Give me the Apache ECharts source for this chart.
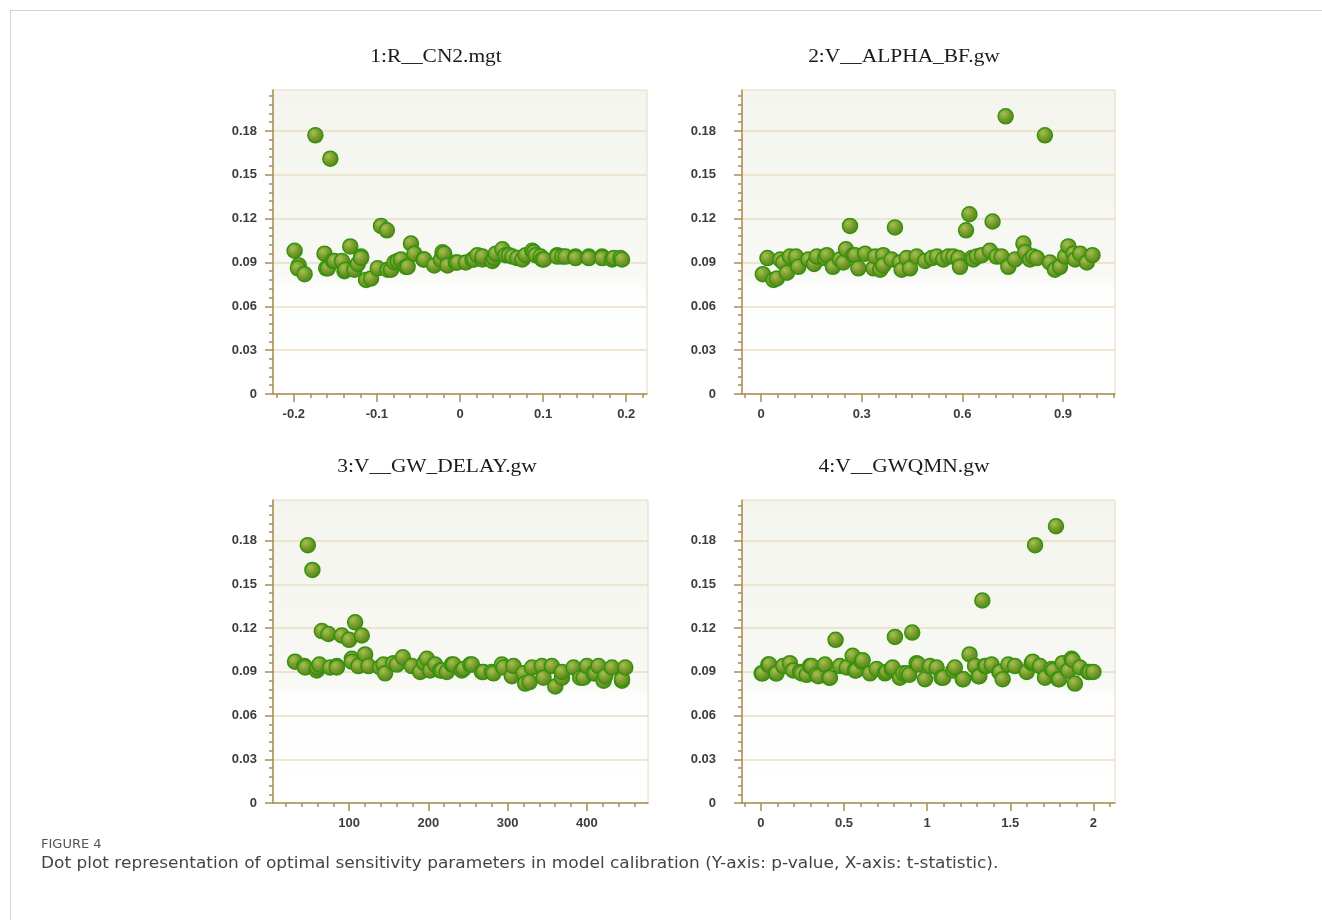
<!DOCTYPE html>
<html>
<head>
<meta charset="utf-8">
<script src="https://cdn.jsdelivr.net/npm/echarts@6/dist/echarts.min.js"></script>
<style>
  html, body { margin: 0; padding: 0; background: #fff; }
  #chart { width: 1322px; height: 920px; }
  #frame { position: absolute; left: 10px; top: 10px; right: 0; bottom: 0;
           border-top: 1px solid #d4d4d4; border-left: 1px solid #d4d4d4; pointer-events: none; }
</style>
</head>
<body>
<div id="chart"></div>
<div id="frame"></div>
<script>
// panel titles
const panelTitles = ['1:R__CN2.mgt', '2:V__ALPHA_BF.gw', '3:V__GW_DELAY.gw', '4:V__GWQMN.gw'];

// y axis (p-value), shared by all panels
const yTickLabels = [0, 0.03, 0.06, 0.09, 0.12, 0.15, 0.18];

// x axis (t-statistic) labels per panel
const xLabels1 = [-0.2, -0.1, 0, 0.1, 0.2];
const xLabels2 = [0, 0.3, 0.6, 0.9];
const xLabels3 = [100, 200, 300, 400];
const xLabels4 = [0, 0.5, 1, 1.5, 2];

// [t-stat, p-value]
const cn2Points = [
  [-0.174, 0.177], [-0.156, 0.161], [-0.095, 0.115], [-0.088, 0.112],
  [-0.199, 0.098], [-0.194, 0.088], [-0.195, 0.086], [-0.187, 0.082], [-0.163, 0.096],
  [-0.161, 0.086], [-0.159, 0.086], [-0.153, 0.091], [-0.151, 0.091], [-0.142, 0.091],
  [-0.139, 0.084], [-0.138, 0.085], [-0.132, 0.101], [-0.127, 0.085], [-0.123, 0.089],
  [-0.119, 0.094], [-0.119, 0.093], [-0.113, 0.078], [-0.107, 0.079], [-0.099, 0.086],
  [-0.087, 0.085], [-0.083, 0.085], [-0.079, 0.090], [-0.075, 0.091], [-0.071, 0.092],
  [-0.065, 0.087], [-0.063, 0.087], [-0.059, 0.103], [-0.055, 0.096], [-0.044, 0.092],
  [-0.043, 0.092], [-0.031, 0.088], [-0.023, 0.092], [-0.021, 0.097], [-0.019, 0.096],
  [-0.015, 0.088], [-0.005, 0.090], [-0.003, 0.090], [0.007, 0.090], [0.015, 0.092],
  [0.017, 0.092], [0.021, 0.095], [0.027, 0.092], [0.027, 0.094], [0.039, 0.091],
  [0.041, 0.093], [0.043, 0.096], [0.051, 0.099], [0.055, 0.095], [0.059, 0.095],
  [0.063, 0.094], [0.069, 0.093], [0.075, 0.092], [0.079, 0.095], [0.087, 0.098],
  [0.089, 0.097], [0.091, 0.095], [0.097, 0.094], [0.099, 0.092], [0.101, 0.092],
  [0.117, 0.095], [0.117, 0.094], [0.123, 0.094], [0.127, 0.094], [0.139, 0.094],
  [0.139, 0.093], [0.155, 0.094], [0.155, 0.093], [0.171, 0.094], [0.171, 0.093],
  [0.183, 0.092], [0.185, 0.093], [0.193, 0.093], [0.195, 0.092]
];
const alphaBfPoints = [
  [0.729, 0.190], [0.846, 0.177], [0.265, 0.115], [0.399, 0.114], [0.621, 0.123],
  [0.611, 0.112], [0.690, 0.118],
  [0.005, 0.082], [0.019, 0.093], [0.037, 0.078], [0.047, 0.079], [0.057, 0.092],
  [0.066, 0.090], [0.077, 0.083], [0.086, 0.094], [0.104, 0.094], [0.111, 0.087],
  [0.141, 0.092], [0.158, 0.089], [0.166, 0.094], [0.191, 0.093], [0.196, 0.095],
  [0.214, 0.087], [0.235, 0.092], [0.245, 0.090], [0.253, 0.099], [0.275, 0.095],
  [0.280, 0.095], [0.290, 0.086], [0.310, 0.096], [0.335, 0.086], [0.340, 0.094],
  [0.355, 0.085], [0.364, 0.095], [0.364, 0.088], [0.389, 0.092], [0.414, 0.090],
  [0.419, 0.085], [0.434, 0.093], [0.444, 0.086], [0.464, 0.094], [0.489, 0.091],
  [0.509, 0.093], [0.524, 0.094], [0.543, 0.092], [0.558, 0.094], [0.573, 0.094],
  [0.588, 0.093], [0.593, 0.087], [0.628, 0.093], [0.633, 0.092], [0.643, 0.094],
  [0.658, 0.095], [0.682, 0.098], [0.702, 0.094], [0.717, 0.094], [0.737, 0.087],
  [0.757, 0.092], [0.782, 0.103], [0.787, 0.097], [0.802, 0.092], [0.811, 0.094],
  [0.822, 0.093], [0.861, 0.090], [0.876, 0.085], [0.891, 0.087], [0.906, 0.094],
  [0.916, 0.101], [0.931, 0.096], [0.936, 0.092], [0.951, 0.096], [0.971, 0.090],
  [0.988, 0.095]
];
const gwDelayPoints = [
  [47.9, 0.177], [53.7, 0.160], [65.6, 0.118], [73.9, 0.116], [90.8, 0.115],
  [100.0, 0.112], [107.6, 0.124], [116.0, 0.115],
  [31.8, 0.097], [43.6, 0.094], [44.5, 0.093], [59.2, 0.091], [60.0, 0.093],
  [62.5, 0.095], [76.0, 0.093], [84.5, 0.094], [84.5, 0.093], [103.4, 0.099],
  [103.4, 0.097], [111.7, 0.094], [120.2, 0.102], [124.4, 0.094], [139.1, 0.093],
  [143.3, 0.095], [145.4, 0.089], [155.9, 0.096], [160.2, 0.095], [167.8, 0.100],
  [179.1, 0.094], [189.6, 0.090], [194.7, 0.096], [198.1, 0.099], [202.2, 0.091],
  [208.5, 0.095], [214.9, 0.091], [217.0, 0.091], [223.3, 0.090], [229.6, 0.095],
  [231.6, 0.095], [242.2, 0.091], [244.3, 0.092], [252.7, 0.095], [254.9, 0.095],
  [267.5, 0.090], [269.5, 0.090], [280.1, 0.090], [282.1, 0.089], [292.7, 0.095],
  [294.8, 0.093], [305.3, 0.087], [307.4, 0.094], [320.0, 0.089], [322.1, 0.082],
  [327.6, 0.083], [330.6, 0.093], [343.2, 0.094], [345.2, 0.086], [355.8, 0.094],
  [360.0, 0.080], [368.5, 0.086], [368.5, 0.090], [383.1, 0.093], [391.5, 0.086],
  [395.7, 0.086], [400.0, 0.094], [408.3, 0.089], [410.5, 0.089], [414.6, 0.094],
  [421.0, 0.084], [423.1, 0.087], [431.6, 0.093], [444.2, 0.084], [444.2, 0.085],
  [448.4, 0.093]
];
const gwqmnPoints = [
  [1.775, 0.190], [1.649, 0.177], [1.332, 0.139], [0.449, 0.112], [0.806, 0.114],
  [0.910, 0.117], [1.255, 0.102],
  [0.004, 0.089], [0.010, 0.089], [0.044, 0.095], [0.050, 0.095], [0.090, 0.089],
  [0.094, 0.089], [0.134, 0.094], [0.174, 0.096], [0.194, 0.091], [0.235, 0.090],
  [0.245, 0.089], [0.275, 0.088], [0.295, 0.094], [0.305, 0.094], [0.335, 0.088],
  [0.345, 0.087], [0.385, 0.095], [0.411, 0.086], [0.415, 0.086], [0.475, 0.094],
  [0.516, 0.093], [0.552, 0.101], [0.566, 0.091], [0.572, 0.091], [0.606, 0.097],
  [0.612, 0.098], [0.656, 0.089], [0.696, 0.092], [0.746, 0.089], [0.756, 0.090],
  [0.786, 0.092], [0.792, 0.093], [0.836, 0.086], [0.856, 0.089], [0.877, 0.089],
  [0.892, 0.088], [0.937, 0.096], [0.947, 0.095], [0.987, 0.085], [1.017, 0.094],
  [1.057, 0.093], [1.087, 0.086], [1.097, 0.086], [1.157, 0.091], [1.167, 0.093],
  [1.214, 0.085], [1.217, 0.085], [1.288, 0.094], [1.308, 0.087], [1.314, 0.087],
  [1.348, 0.094], [1.354, 0.094], [1.388, 0.095], [1.434, 0.090], [1.438, 0.090],
  [1.454, 0.085], [1.488, 0.095], [1.528, 0.094], [1.599, 0.090], [1.629, 0.096],
  [1.635, 0.097], [1.679, 0.094], [1.709, 0.086], [1.749, 0.092], [1.759, 0.091],
  [1.789, 0.085], [1.795, 0.085], [1.815, 0.096], [1.849, 0.091], [1.869, 0.099],
  [1.876, 0.098], [1.889, 0.082], [1.919, 0.093], [1.969, 0.090], [1.979, 0.090],
  [2.000, 0.090]
];

function steps(a, b, s) {
  const out = [];
  for (let v = a; v <= b + s / 1000; v += s) out.push(+v.toFixed(4));
  return out;
}

const panels = [
  { grid: { left: 273, top: 90, width: 374, height: 304 }, xMin: -0.225, xMax: 0.225,
    labels: xLabels1, minor: steps(-0.22, 0.22, 0.02), yMargin: 16, data: cn2Points },
  { grid: { left: 742, top: 90, width: 373, height: 304 }, xMin: -0.057, xMax: 1.055,
    labels: xLabels2, minor: steps(-0.05, 1.05, 0.05), yMargin: 26, data: alphaBfPoints },
  { grid: { left: 273, top: 500, width: 375, height: 303 }, xMin: 4, xMax: 477,
    labels: xLabels3, minor: steps(20, 460, 20), yMargin: 16, data: gwDelayPoints },
  { grid: { left: 742, top: 500, width: 373, height: 303 }, xMin: -0.114, xMax: 2.13,
    labels: xLabels4, minor: steps(-0.1, 2.1, 0.1), yMargin: 26, data: gwqmnPoints }
];
const titlePos = [[436, 57], [904, 57], [437, 467], [904, 467]];

const yMax = 0.208;
const yMinor = steps(0, 0.204, 0.006);
const axisColor = '#a98d55';
const labelStyle = { color: '#3c3c3c', fontSize: 13, fontWeight: 'bold', fontFamily: 'Liberation Sans, Arial, sans-serif' };
const dotFill = {
  type: 'radial', x: 0.38, y: 0.35, r: 0.7,
  colorStops: [{ offset: 0, color: '#a6c052' }, { offset: 0.5, color: '#779b2b' }, { offset: 1, color: '#4d8015' }]
};

const grids = [], xAxes = [], yAxes = [], series = [];
panels.forEach((p, i) => {
  grids.push(Object.assign({
    show: true, borderColor: '#e6dabf', borderWidth: 1,
    backgroundColor: {
      type: 'linear', x: 0, y: 0, x2: 0, y2: 1,
      colorStops: [{ offset: 0, color: '#f5f5ef' }, { offset: 0.6, color: '#f8f8f4' },
                   { offset: 0.66, color: '#fefefe' }, { offset: 1, color: '#ffffff' }]
    }
  }, p.grid));
  // main x axis: line, labels and major ticks
  xAxes.push({
    type: 'value', gridIndex: i, position: 'bottom', min: p.xMin, max: p.xMax,
    axisLine: { show: true, onZero: false, lineStyle: { color: axisColor, width: 1.5 } },
    axisTick: { show: true, customValues: p.labels, length: 8, lineStyle: { color: axisColor, width: 1.5 } },
    axisLabel: Object.assign({ customValues: p.labels, margin: 14 }, labelStyle),
    splitLine: { show: false }
  });
  // minor x ticks
  xAxes.push({
    type: 'value', gridIndex: i, position: 'bottom', min: p.xMin, max: p.xMax,
    axisLine: { show: false, onZero: false },
    axisTick: { show: true, customValues: p.minor, length: 4, lineStyle: { color: axisColor, width: 1.5 } },
    axisLabel: { show: false }, splitLine: { show: false }
  });
  // main y axis: line, labels, gridlines
  yAxes.push({
    type: 'value', gridIndex: i, position: 'left', min: 0, max: yMax,
    axisLine: { show: true, onZero: false, lineStyle: { color: axisColor, width: 1.5 } },
    axisTick: { show: true, customValues: yTickLabels, length: 8, lineStyle: { color: axisColor, width: 1.5 } },
    axisLabel: Object.assign({ customValues: yTickLabels, margin: p.yMargin }, labelStyle),
    splitLine: { show: true, lineStyle: { color: '#eadcc2', width: 1.5 } }
  });
  // minor y ticks
  yAxes.push({
    type: 'value', gridIndex: i, position: 'left', min: 0, max: yMax,
    axisLine: { show: false, onZero: false },
    axisTick: { show: true, customValues: yMinor, length: 4, lineStyle: { color: axisColor, width: 1.5 } },
    axisLabel: { show: false },
    splitLine: { show: false }
  });
  series.push({
    type: 'scatter', xAxisIndex: i * 2, yAxisIndex: i * 2, data: p.data,
    symbolSize: 15,
    itemStyle: { color: dotFill, borderColor: '#35920f', borderWidth: 1.5, opacity: 1 },
    z: 5
  });
});

const graphics = panelTitles.map((t, i) => ({
  type: 'text', x: titlePos[i][0], y: titlePos[i][1], scaleX: 1.19,
  style: { text: t, fill: '#1a1a1a', font: '18px "Liberation Serif", "Times New Roman", serif',
           textAlign: 'center', textVerticalAlign: 'middle' }
}));
graphics.push({
  type: 'text', x: 41, y: 845,
  style: { text: 'FIGURE 4', fill: '#555', font: '13px "DejaVu Sans", sans-serif', textVerticalAlign: 'middle' }
});
graphics.push({
  type: 'text', x: 41, y: 864, scaleX: 1.06,
  style: { text: 'Dot plot representation of optimal sensitivity parameters in model calibration (Y-axis: p-value, X-axis: t-statistic).',
           fill: '#444', font: '16px "DejaVu Sans", sans-serif', textVerticalAlign: 'middle' }
});

const chart = echarts.init(document.getElementById('chart'));
chart.setOption({
  animation: false,
  backgroundColor: '#fff',
  grid: grids,
  xAxis: xAxes,
  yAxis: yAxes,
  series: series,
  graphic: graphics
});
</script>
</body>
</html>
